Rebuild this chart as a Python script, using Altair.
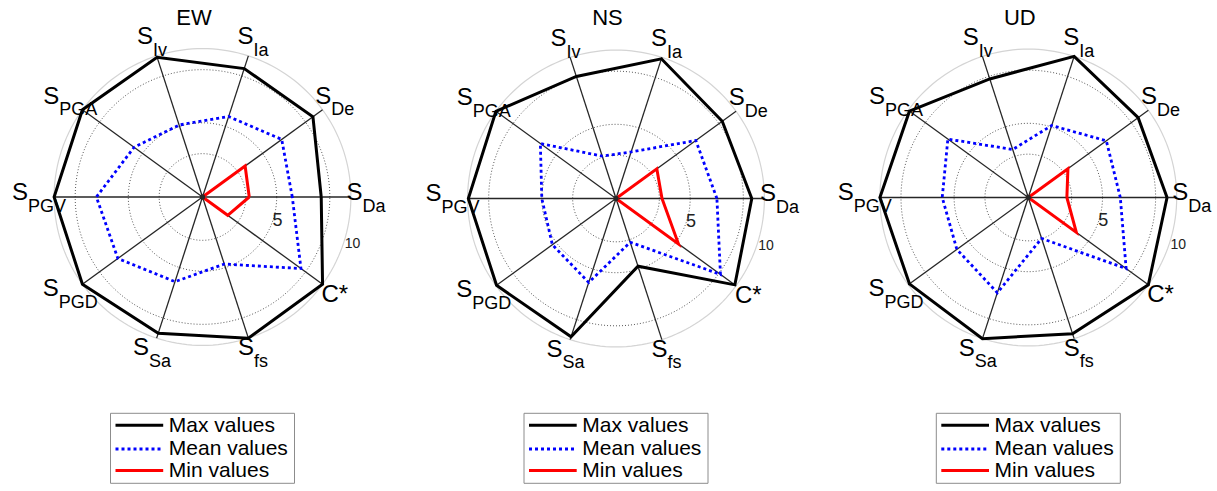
import math
import altair as alt
import pandas as pd

# Spokes, counter-clockwise from the positive x axis (36 degrees apart)
CRITERIA_MAIN = ["S", "S", "S", "S", "S", "S", "S", "S", "S", "C*"]
CRITERIA_SUB = ["Da", "De", "Ia", "Iv", "PGA", "PGV", "PGD", "Sa", "fs", ""]

COMPONENTS = ["EW", "NS", "UD"]
SERIES = ["Max values", "Mean values", "Min values"]

MAX_EW = [8.0, 9.2, 9.1, 9.9, 10.0, 10.0, 10.0, 9.65, 10.0, 10.0]
MEAN_EW = [6.05, 6.6, 5.7, 5.1, 5.7, 7.15, 7.05, 6.0, 4.75, 8.2]
MIN_EW = [3.15, 3.55, 0, 0, 0, 0, 0, 0, 0, 2.1]

MAX_NS = [9.15, 8.85, 9.9, 8.65, 10.0, 9.95, 9.95, 9.8, 4.8, 9.9]
MEAN_NS = [6.8, 6.65, 3.3, 3.0, 6.3, 5.0, 5.3, 5.95, 3.1, 8.7]
MIN_NS = [3.1, 3.4, 0, 0, 0, 0, 0, 0, 0, 5.2]

MAX_UD = [9.35, 9.15, 10.0, 8.4, 9.9, 10.0, 9.9, 10.0, 9.65, 10.0]
MEAN_UD = [6.2, 6.5, 5.1, 3.4, 6.7, 5.8, 5.95, 6.75, 2.9, 8.15]
MIN_UD = [2.6, 3.3, 0, 0, 0, 0, 0, 0, 0, 4.0]

VALUES = {
    "EW": [MAX_EW, MEAN_EW, MIN_EW],
    "NS": [MAX_NS, MEAN_NS, MIN_NS],
    "UD": [MAX_UD, MEAN_UD, MIN_UD],
}

GRID_RADII = [2.92, 5.0, 8.58]
OUTER_RADIUS = 10
TICK_VALUES = [5, 10]

# ---- layout -------------------------------------------------------------
PX = 14.84                      # pixels per radial unit
CANVAS_H = 491
PANEL_W = [406, 406, 405]
CENTER = [(202.5, 197.0), (210.0, 198.5), (216.3, 197.5)]  # inside each panel
FONT = "Liberation Sans"

STYLE = {
    "Max values": dict(color="#000000", strokeWidth=3),
    "Mean values": dict(color="#0000ff", strokeWidth=2.8, strokeDash=[3, 3]),
    "Min values": dict(color="#ff0000", strokeWidth=3),
}

# Arial-compatible advance widths (em)
CW = {"S": .667, "C": .722, "*": .389, "D": .722, "a": .556, "e": .556,
      "I": .278, "v": .5, "P": .667, "G": .778, "A": .667, "V": .667,
      "f": .278, "s": .5}


def text_w(s, size):
    return sum(CW.get(c, .556) for c in s) * size


def units(dx_px, dy_px):
    """Pixel offset from the centre (screen y down) -> data units."""
    return dx_px / PX, -dy_px / PX


angles = [36 * i for i in range(len(CRITERIA_MAIN))]

# grid circles
grid_rows = []
for r, kind in [(g, "inner") for g in GRID_RADII] + [(OUTER_RADIUS, "outer")]:
    for t in range(0, 361, 2):
        grid_rows.append({"r": r, "t": t, "kind": kind})
grid_df = pd.DataFrame(grid_rows)

spoke_df = pd.DataFrame({"angle": angles, "r": OUTER_RADIUS})

# spoke labels: main letter plus subscript, centred as a group
MAIN_SIZE, SUB_SIZE, LABEL_R = 24, 18, 163.5
main_rows, sub_rows = [], []
for a, m, s in zip(angles, CRITERIA_MAIN, CRITERIA_SUB):
    gx = LABEL_R * math.cos(math.radians(a))
    gy = -LABEL_R * math.sin(math.radians(a))
    wm, ws = text_w(m, MAIN_SIZE), text_w(s, SUB_SIZE)
    left = gx - (wm + ws) / 2
    mx, my = units(left, gy + (2.8 if s else 8.6))
    main_rows.append({"text": m, "x": mx, "y": my})
    if s:
        sx, sy = units(left + wm, gy + 14.5)
        sub_rows.append({"text": s, "x": sx, "y": sy})
main_df = pd.DataFrame(main_rows)
sub_df = pd.DataFrame(sub_rows)

tick_rows = []
for v in TICK_VALUES:
    r = v * 1.06
    tick_rows.append({"text": str(v),
                      "x": r * math.cos(math.radians(-17.5)),
                      "y": r * math.sin(math.radians(-17.5)),
                      "fs": 18 if v == 5 else 14})
tick_df = pd.DataFrame(tick_rows)


def make_panel(k):
    comp = COMPONENTS[k]
    w = PANEL_W[k]
    cx, cy = CENTER[k]
    xs = alt.Scale(domain=[-cx / PX, (w - cx) / PX], nice=False, zero=False)
    ys = alt.Scale(domain=[-(CANVAS_H - cy) / PX, cy / PX], nice=False, zero=False)

    def X(f):
        return alt.X(f"{f}:Q", scale=xs, axis=None)

    def Y(f):
        return alt.Y(f"{f}:Q", scale=ys, axis=None)

    polar = dict(x="datum.r * cos(datum.t * PI / 180)",
                 y="datum.r * sin(datum.t * PI / 180)")

    grid_inner = (alt.Chart(grid_df).transform_filter("datum.kind == 'inner'")
                  .transform_calculate(**polar)
                  .mark_line(stroke="#444444", strokeWidth=0.9, strokeDash=[1, 2])
                  .encode(x=X("x"), y=Y("y"), detail="r:N", order="t:Q"))
    grid_outer = (alt.Chart(grid_df).transform_filter("datum.kind == 'outer'")
                  .transform_calculate(**polar)
                  .mark_line(stroke="#d4d4d4", strokeWidth=1.2)
                  .encode(x=X("x"), y=Y("y"), order="t:Q"))
    spokes = (alt.Chart(spoke_df)
              .transform_calculate(x0="0", y0="0",
                                   x1="datum.r * cos(datum.angle * PI / 180)",
                                   y1="datum.r * sin(datum.angle * PI / 180)")
              .mark_rule(stroke="#262626", strokeWidth=1.3)
              .encode(x=X("x0"), y=Y("y0"), x2="x1:Q", y2="y1:Q"))

    layers = [grid_outer, grid_inner, spokes]

    for name, vals in zip(SERIES, VALUES[comp]):
        n = len(vals)
        df = pd.DataFrame({"i": list(range(n + 1)),
                           "angle": angles + [360],
                           "value": vals + [vals[0]]})
        layers.append(
            alt.Chart(df)
            .transform_calculate(x="datum.value * cos(datum.angle * PI / 180)",
                                 y="datum.value * sin(datum.angle * PI / 180)")
            .mark_line(strokeJoin="miter", **STYLE[name])
            .encode(x=X("x"), y=Y("y"), order="i:Q"))

    layers.append(alt.Chart(pd.DataFrame({"x": [0], "y": [0]}))
                  .mark_point(filled=True, size=28, color="#262626", opacity=1)
                  .encode(x=X("x"), y=Y("y")))

    layers.append(alt.Chart(main_df)
                  .mark_text(align="left", baseline="alphabetic", font=FONT,
                             fontSize=MAIN_SIZE, color="#000000")
                  .encode(x=X("x"), y=Y("y"), text="text:N"))
    layers.append(alt.Chart(sub_df)
                  .mark_text(align="left", baseline="alphabetic", font=FONT,
                             fontSize=SUB_SIZE, color="#000000")
                  .encode(x=X("x"), y=Y("y"), text="text:N"))
    layers.append(alt.Chart(tick_df)
                  .mark_text(align="center", baseline="middle", font=FONT,
                             color="#222222")
                  .encode(x=X("x"), y=Y("y"), text="text:N",
                          size=alt.Size("fs:Q", scale=None)))

    # panel title
    tx, ty = units(-8.5, 24.6 - cy)
    layers.append(alt.Chart(pd.DataFrame({"text": [comp], "x": [tx], "y": [ty]}))
                  .mark_text(align="center", baseline="alphabetic", font=FONT,
                             fontSize=22, color="#000000")
                  .encode(x=X("x"), y=Y("y"), text="text:N"))

    # legend box under the plot
    left = -92.0
    bx0, by0 = units(left, 413.3 - cy)
    bx1, by1 = units(left + 184, 483.3 - cy)
    layers.append(alt.Chart(pd.DataFrame({"x": [bx0], "x2": [bx1], "y": [by0], "y2": [by1]}))
                  .mark_rect(fill="white", stroke="#8c8c8c", strokeWidth=1)
                  .encode(x=X("x"), x2="x2:Q", y=Y("y"), y2="y2:Q"))
    line_y = [425.3, 449.0, 470.6]
    text_y = [432.3, 455.0, 477.3]
    for name, ly, tyy in zip(SERIES, line_y, text_y):
        lx0, lyy = units(left + 5, ly - cy)
        lx1, _ = units(left + 52.7, ly - cy)
        layers.append(alt.Chart(pd.DataFrame({"x": [lx0], "x2": [lx1], "y": [lyy]}))
                      .mark_rule(**STYLE[name])
                      .encode(x=X("x"), x2="x2:Q", y=Y("y")))
        lbx, lby = units(left + 58.3, tyy - cy)
        layers.append(alt.Chart(pd.DataFrame({"text": [name], "x": [lbx], "y": [lby]}))
                      .mark_text(align="left", baseline="alphabetic", font=FONT,
                                 fontSize=21, color="#000000")
                      .encode(x=X("x"), y=Y("y"), text="text:N"))

    return alt.layer(*layers).properties(width=w, height=CANVAS_H)


panels = [make_panel(k) for k in range(3)]

chart = (
    alt.hconcat(*panels, spacing=0, bounds="flush")
    .resolve_scale(x="independent", y="independent")
    .properties(padding=0, background="white")
    .configure_view(stroke=None)
)

chart.save("out.html", embed_options={"renderer": "svg", "actions": False})
